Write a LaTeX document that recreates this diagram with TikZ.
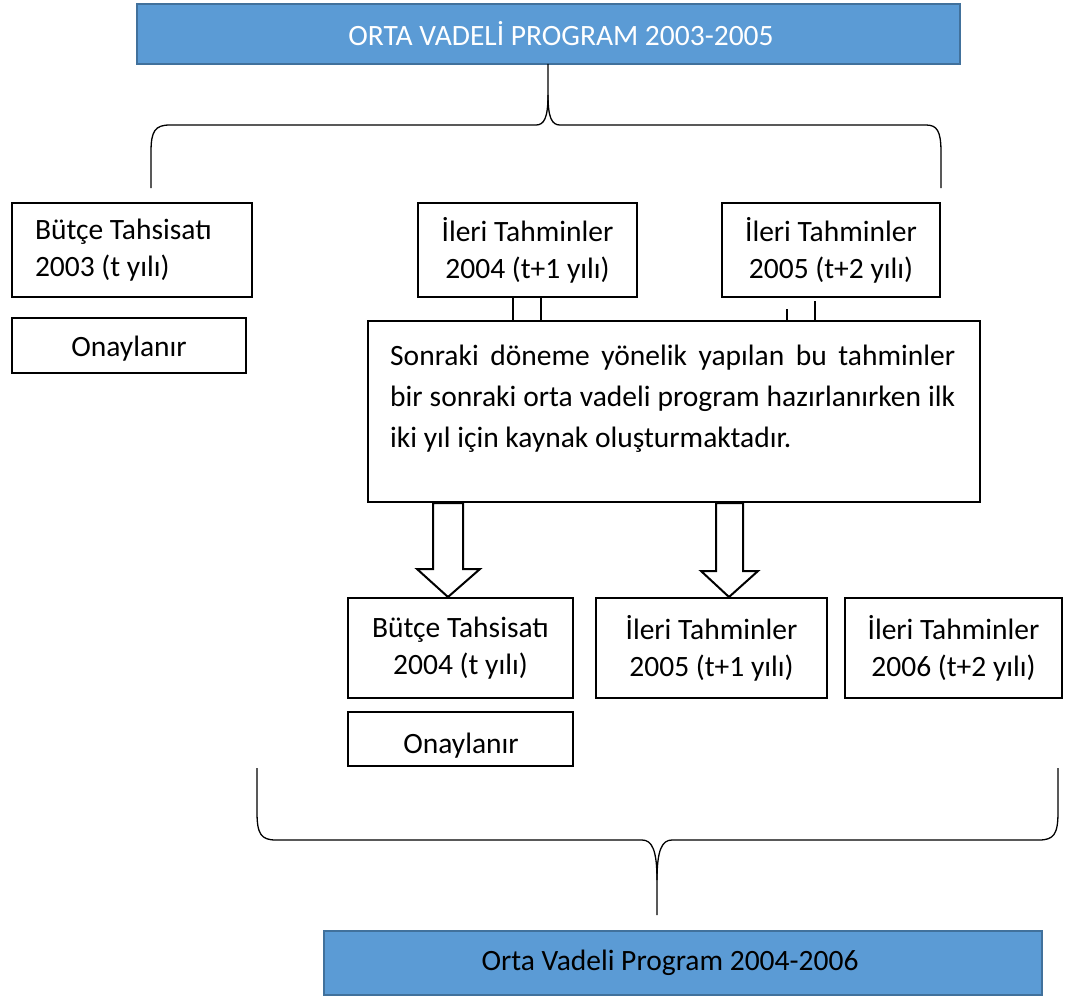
\documentclass[tikz,border=0pt]{standalone}
\usepackage{fontspec}
\setmainfont{Carlito}
\definecolor{barfill}{HTML}{5B9BD5}
\definecolor{barline}{HTML}{41719C}
\begin{document}
\begin{tikzpicture}[x=1pt,y=-1pt,
  txt/.style={font=\fontsize{29.5}{37}\selectfont},
  box/.style={draw=black,line width=2pt,fill=white,inner sep=0pt,txt,align=center},
  bar/.style={draw=barline,line width=2pt,fill=barfill,inner sep=0pt,txt},
  brace/.style={draw=black,line width=1.3pt},
  blockarrow/.style={draw=black,line width=2pt,fill=white,line join=miter},
  stub/.style={draw=black,line width=1.3pt}]
\useasboundingbox (0,0) rectangle (1069,998);

% top bar
\node[bar,text=white,minimum width=823,minimum height=60] (top) at (548.5,34) {\hspace*{25pt}ORTA VADELİ PROGRAM 2003-2005};

% top brace
\coordinate (tb) at (548,64);
\path[brace] (151,188) -- (151,152) .. controls (151,131) and (155,125) .. (170,125)
  -- (536,125) .. controls (544,125) and (548,118) .. (548,95) -- (tb);
\path[brace] (548,95) .. controls (548,118) and (552,125) .. (560,125)
  -- (926,125) .. controls (937,125) and (941,131) .. (941,152) -- (941,188);

% row 1
\node[box,minimum width=240,minimum height=94,text width=194,align=flush left] (b1) at (132,250) {Bütçe Tahsisatı\\2003 (t yılı)};
\node[box,minimum width=234,minimum height=55] (o1) at (129,345.5) {\raisebox{-11pt}[0pt][0pt]{Onaylanır}};
\node[box,minimum width=219,minimum height=94] (t1) at (527.5,250) {İleri Tahminler\\2004 (t+1 yılı)};
\node[box,minimum width=218,minimum height=94] (t2) at (831,250) {İleri Tahminler\\2005 (t+2 yılı)};

% big box
\node[box,minimum width=612,minimum height=181] (big) at (674,411.5) {};
\node[font=\fontsize{29.5}{41}\selectfont,anchor=north west,inner sep=0pt,text width=565,align=justify] (bigt) at (390,345)
  {\hyphenpenalty=10000 Sonraki döneme yönelik yapılan bu tahminler\linebreak bir sonraki orta vadeli program hazırlanırken ilk\linebreak iki yıl için kaynak oluşturmaktadır.};

% stubs between row 1 and big box
\draw[stub] (t1.south -| 513,0) -- (big.north -| 513,0);
\draw[stub] (t1.south -| 541,0) -- (big.north -| 541,0);
\draw[stub] (787,309) -- (big.north -| 787,0);
\draw[stub] (815,301) -- (big.north -| 815,0);

% row 2
\node[box,minimum width=225,minimum height=100] (b2) at (460.5,648) {Bütçe Tahsisatı\\2004 (t yılı)};
\node[box,minimum width=231,minimum height=100] (t3) at (711.5,648) {İleri Tahminler\\2005 (t+1 yılı)};
\node[box,minimum width=217,minimum height=100] (t4) at (953.5,648) {İleri Tahminler\\2006 (t+2 yılı)};
\node[box,minimum width=225,minimum height=54] (o2) at (460.5,739) {};
\begin{scope}
\clip (349,713) rectangle (572,758);
\node[txt,anchor=base,inner sep=0pt] (o2t) at (461,753) {Onaylanır};
\end{scope}

% block arrows
\path[blockarrow] (big.south -| 433,0) -- (433,569) -- (417,569) -- (b2.north -| 448,0) -- (480,569) -- (463,569) -- (big.south -| 463,0) -- cycle;
\path[blockarrow] (big.south -| 716,0) -- (716,571) -- (701,571) -- (t3.north -| 729,0) -- (758,571) -- (743,571) -- (big.south -| 743,0) -- cycle;

% bottom brace
\coordinate (bb) at (657,915);
\path[brace] (257,768) -- (257,812) .. controls (257,834) and (261,840) .. (276,840)
  -- (642,840) .. controls (652,840) and (657,850) .. (657,880) -- (bb);
\path[brace] (657,880) .. controls (657,850) and (662,840) .. (672,840)
  -- (1039,840) .. controls (1054,840) and (1058,834) .. (1058,812) -- (1058,768);

% bottom bar
\node[bar,text=black,minimum width=718,minimum height=64] (bot) at (683,963) {Orta Vadeli Program 2004-2006\hspace*{26pt}};
\end{tikzpicture}
\end{document}
